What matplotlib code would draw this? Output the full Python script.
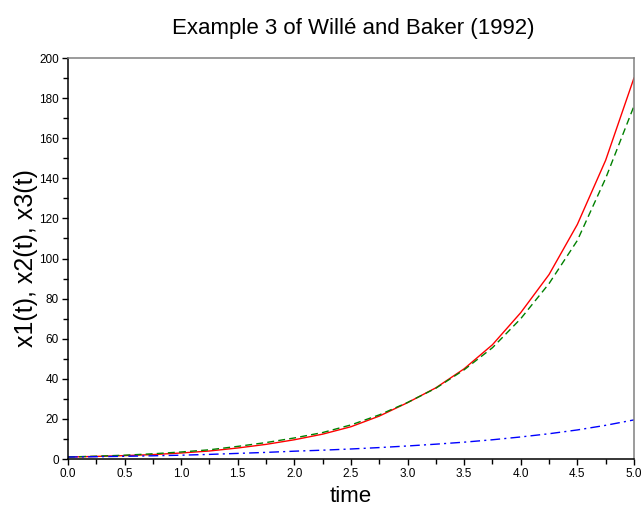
import matplotlib
matplotlib.use("Agg")
import matplotlib.pyplot as plt
from matplotlib.ticker import MultipleLocator, FormatStrFormatter

# values, t = 0, 0.25, ..., 5
t = [0.0, 0.25, 0.5, 0.75, 1.0, 1.25, 1.5, 1.75, 2.0, 2.25, 2.5,
     2.75, 3.0, 3.25, 3.5, 3.75, 4.0, 4.25, 4.5, 4.75, 5.0]
x1 = [1.0, 1.3, 1.7, 2.2, 3.0, 4.0, 5.5, 7.3, 9.6, 12.4, 16.1,
      21.4, 28.1, 35.5, 45.0, 57.0, 73.0, 92.0, 117.0, 149.0, 190.0]
x2 = [1.0, 1.4, 1.9, 2.6, 3.5, 4.6, 6.3, 8.2, 10.5, 13.2, 17.0,
      22.0, 28.2, 35.3, 44.5, 55.5, 70.0, 87.5, 109.0, 140.0, 176.0]
x3 = [1.0, 1.15, 1.35, 1.6, 1.9, 2.3, 2.8, 3.3, 3.9, 4.4, 5.0,
      5.7, 6.5, 7.4, 8.4, 9.6, 11.0, 12.6, 14.5, 16.8, 19.5]

plt.rcParams['font.family'] = ['Liberation Sans', 'DejaVu Sans']

fig = plt.figure(figsize=(6.41, 5.12), dpi=100)
ax = fig.add_axes([0.106, 0.1035, 0.883, 0.7832])

ax.plot(t, x1, color='#ff0000', lw=1.0, ls='-')
ax.plot(t, x2, color='#008000', lw=1.0, ls=(0, (5, 3)))
ax.plot(t, x3, color='#0000ff', lw=1.0, ls=(0, (7, 3, 1.5, 3)))

ax.set_xlim(0, 5)
ax.set_ylim(0, 200)
ax.xaxis.set_major_locator(MultipleLocator(0.5))
ax.xaxis.set_minor_locator(MultipleLocator(0.25))
ax.xaxis.set_major_formatter(FormatStrFormatter('%.1f'))
ax.yaxis.set_major_locator(MultipleLocator(20))
ax.yaxis.set_minor_locator(MultipleLocator(10))

ax.tick_params(which='major', direction='out', length=4.5, width=1.0,
               labelsize=8.5, top=False, right=False, pad=2)
ax.tick_params(which='minor', direction='out', length=3.5, width=1.0,
               top=False, right=False)

for s in ['left', 'bottom']:
    ax.spines[s].set_color('black')
    ax.spines[s].set_linewidth(1.1)
for s in ['top', 'right']:
    ax.spines[s].set_color('#808080')
    ax.spines[s].set_linewidth(1.1)

ax.set_xlabel('time', fontsize=16, labelpad=4)
ax.set_ylabel('x1(t), x2(t), x3(t)', fontsize=18)
ax.yaxis.set_label_coords(-0.053, 0.5)
fig.text(0.551, 0.945, 'Example 3 of Willé and Baker (1992)',
         ha='center', va='center', fontsize=16)

fig.savefig('out.png', dpi=100)
